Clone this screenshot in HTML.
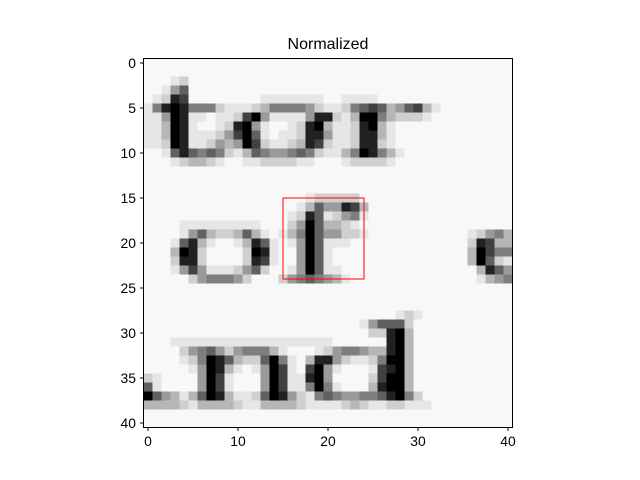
<!DOCTYPE html>
<html><head><meta charset="utf-8"><style>
html,body{margin:0;padding:0;background:#fff;}
svg{display:block;font-family:"Liberation Sans","DejaVu Sans",sans-serif;}
</style></head><body>
<svg id="chart" width="640" height="480" viewBox="0 0 640 480">
<text x="328" y="49" text-anchor="middle" font-size="16">Normalized</text>
<g id="cells"></g>
<rect id="roi" fill="none" stroke="#ff0000" stroke-width="1"></rect>
<rect x="143.5" y="58.5" width="369" height="369" fill="none" stroke="#000" stroke-width="1"></rect>
<g id="xaxis"></g>
<g id="yaxis"></g>
</svg>
<script>
const rows = [
"", "", "00012", "00146",
"01287000000001111111001111",
"158985552111235555421125676346731",
"11498110112794111148821399532221",
"1139810012894100128931128931",
"1139811124796101128841128831",
"1129811243497211238721128821",
"00168656521365445652113598531",
"0001233210011222211000122221",
"", "", "",
"000000000000000000122222",
"0000000000000000013644873",
"0000000000000000128612451",
"000011111111100024963321",
"0000146322363101359644221" + "00000000000" + "12453",
"00016831001386101496111" + "0000000000000" + "28733",
"000398200002981" + "00" + "4961" + "000000000000000" + "39755",
"000288200002871" + "00" + "4961" + "000000000000000" + "39621",
"00014741112462001496110000000000000003864",
"00000245554200024565431000000000000001345",
"", "", "",
"0000000000000000000000000000121",
"0000000000000000000000001466620",
"0000000000000000000000000228930",
"0001111111111111111110000008930",
"000024564245553100012455433893",
"000012598632269510388421125993",
"000001498310149710794100017893",
"210000497100049711894000027993",
"610000497100049711595100038993",
"9643136983112698421565445568952",
"33332133332113333211112321122111",
"", ""
];
const N = 41;
const roiBox = [15, 15, 24, 24];
const xTicks = [0, 10, 20, 30, 40];
const yTicks = [0, 5, 10, 15, 20, 25, 30, 35, 40];

const X0 = 143.5, Y0 = 58.5, CELL = 9;
function xPix(v){ return X0 + (v + 0.5) * CELL; }
function yPix(v){ return Y0 + (v + 0.5) * CELL; }
const NS = "http://www.w3.org/2000/svg";
const cells = document.getElementById('cells');
for (let r = 0; r < N; r++) {
  const s = (rows[r] || "").padEnd(N, '0');
  for (let c = 0; c < N; c++) {
    const v = parseInt(s[c], 10) || 0;
    const g = Math.max(0, Math.round(248 - 248 * Math.pow(v / 9, 1.2)));
    const el = document.createElementNS(NS, 'rect');
    el.setAttribute('x', X0 + c * CELL);
    el.setAttribute('y', Y0 + r * CELL);
    el.setAttribute('width', CELL + 0.3);
    el.setAttribute('height', CELL + 0.3);
    el.setAttribute('fill', `rgb(${g},${g},${g})`);
    
    
    cells.appendChild(el);
  }
}
const roi = document.getElementById('roi');
roi.setAttribute('x', xPix(roiBox[0]));
roi.setAttribute('y', yPix(roiBox[1]));
roi.setAttribute('width', xPix(roiBox[2]) - xPix(roiBox[0]));
roi.setAttribute('height', yPix(roiBox[3]) - yPix(roiBox[1]));

const xa = document.getElementById('xaxis');
xTicks.forEach(t => {
  const x = xPix(t);
  const ln = document.createElementNS(NS, 'line');
  ln.setAttribute('x1', x); ln.setAttribute('x2', x);
  ln.setAttribute('y1', 427.5); ln.setAttribute('y2', 431);
  ln.setAttribute('stroke', '#000');
  
  
  xa.appendChild(ln);
  const tx = document.createElementNS(NS, 'text');
  tx.setAttribute('x', x); tx.setAttribute('y', 446);
  tx.setAttribute('text-anchor', 'middle'); tx.setAttribute('font-size', '13.9');
  tx.textContent = t;
  
  
  xa.appendChild(tx);
});
const ya = document.getElementById('yaxis');
yTicks.forEach(t => {
  const y = yPix(t);
  const ln = document.createElementNS(NS, 'line');
  ln.setAttribute('x1', 140); ln.setAttribute('x2', 143.5);
  ln.setAttribute('y1', y); ln.setAttribute('y2', y);
  ln.setAttribute('stroke', '#000');
  
  
  ya.appendChild(ln);
  const tx = document.createElementNS(NS, 'text');
  tx.setAttribute('x', 136); tx.setAttribute('y', y + 5);
  tx.setAttribute('text-anchor', 'end'); tx.setAttribute('font-size', '13.9');
  tx.textContent = t;
  
  
  ya.appendChild(tx);
});
</script>
</body></html>
